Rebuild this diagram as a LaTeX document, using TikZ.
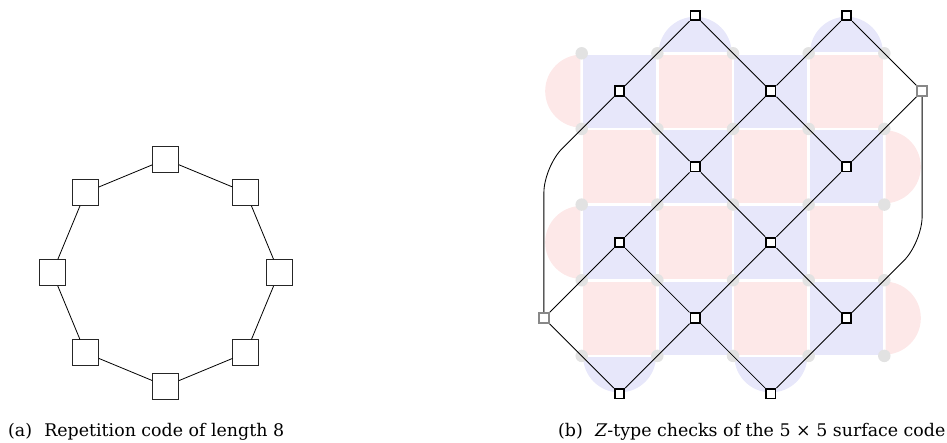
\documentclass[tikz,border=0pt]{standalone}
\usepackage{fontspec}
\setmainfont{DejaVu Serif}
\definecolor{xface}{RGB}{253,232,232}
\definecolor{zface}{RGB}{231,231,250}
\definecolor{qubit}{RGB}{226,226,226}
\definecolor{bnd}{RGB}{136,136,136}
\begin{document}
\begin{tikzpicture}[x=1pt,y=-1pt,
  rep/.style={draw=black!85, fill=white, minimum size=26pt, inner sep=0pt, line width=0.8pt},
  zchk/.style={draw=black, fill=white, minimum size=9.5pt, inner sep=0pt, line width=1.8pt},
  vchk/.style={draw=bnd, fill=white, minimum size=10pt, inner sep=0pt, line width=1.3pt},
  dq/.style={circle, fill=qubit, minimum size=12.5pt, inner sep=0pt},
  conn/.style={line width=0.85pt},
  captext/.style={anchor=base west, inner sep=0pt, font=\fontsize{17.4}{20}\selectfont}]
\useasboundingbox (0,0) rectangle (947,443);

% ---------- (a) repetition code on a ring of 8 ----------
\foreach \k in {0,...,7}
  \node[rep] (r\k) at ({165.7+113.4*cos(90+45*\k)},{272.7+113.4*sin(90+45*\k)}) {};
\foreach \k [evaluate=\k as \n using {int(mod(\k+1,8))}] in {0,...,7}
  \draw[line width=0.8pt] (r\k) -- (r\n);

% ---------- (b) 5x5 surface code ----------
\def\xo{581.7}\def\yo{53.3}\def\dx{75.65}\def\gp{1.3}
% plaquettes
\foreach \c in {0,...,3}
  \foreach \r in {0,...,3} {
    \pgfmathtruncatemacro\parity{mod(\c+\r,2)}
    \ifnum\parity=0 \def\fc{zface}\else\def\fc{xface}\fi
    \fill[\fc] ({\xo+\c*\dx+\gp},{\yo+\r*\dx+\gp}) rectangle ({\xo+(\c+1)*\dx-\gp},{\yo+(\r+1)*\dx-\gp});
  }
% boundary half-discs: Z on top/bottom, X on left/right
\foreach \c in {1,3} {
  \begin{scope}
    \clip ({\xo+\c*\dx},{\yo-\gp}) rectangle ({\xo+(\c+1)*\dx},{\yo-\dx});
    \fill[zface] ({\xo+(\c+0.5)*\dx},{\yo}) circle[radius={\dx/2-\gp}];
  \end{scope}
}
\foreach \c in {0,2} {
  \begin{scope}
    \clip ({\xo+\c*\dx},{\yo+4*\dx+\gp}) rectangle ({\xo+(\c+1)*\dx},{\yo+5*\dx});
    \fill[zface] ({\xo+(\c+0.5)*\dx},{\yo+4*\dx}) circle[radius={\dx/2-\gp}];
  \end{scope}
}
\foreach \r in {0,2} {
  \begin{scope}
    \clip ({\xo-\gp},{\yo+\r*\dx}) rectangle ({\xo-\dx},{\yo+(\r+1)*\dx});
    \fill[xface] ({\xo},{\yo+(\r+0.5)*\dx}) circle[radius={\dx/2-\gp}];
  \end{scope}
}
\foreach \r in {1,3} {
  \begin{scope}
    \clip ({\xo+4*\dx+\gp},{\yo+\r*\dx}) rectangle ({\xo+5*\dx},{\yo+(\r+1)*\dx});
    \fill[xface] ({\xo+4*\dx},{\yo+(\r+0.5)*\dx}) circle[radius={\dx/2-\gp}];
  \end{scope}
}
% data qubits
\foreach \i in {0,...,4}
  \foreach \j in {0,...,4}
    \node[dq] (d-\i-\j) at ({\xo+\i*\dx},{\yo+\j*\dx}) {};

% Z checks: bulk plaquettes
\foreach \c/\r in {0/0,2/0,1/1,3/1,0/2,2/2,1/3,3/3}
  \coordinate (p-\c-\r) at ({\xo+(\c+0.5)*\dx},{\yo+(\r+0.5)*\dx});
% boundary checks and virtual boundary vertices
\coordinate (p-t1) at ({\xo+1.5*\dx},{\yo-0.5*\dx});
\coordinate (p-t3) at ({\xo+3.5*\dx},{\yo-0.5*\dx});
\coordinate (p-b0) at ({\xo+0.5*\dx},{\yo+4.5*\dx});
\coordinate (p-b2) at ({\xo+2.5*\dx},{\yo+4.5*\dx});
\coordinate (p-L) at ({\xo-0.5*\dx},{\yo+3.5*\dx});
\coordinate (p-R) at ({\xo+4.5*\dx},{\yo+0.5*\dx});
\coordinate (bendL) at ({\xo-0.5*\dx},{\yo+1.5*\dx});
\coordinate (bendR) at ({\xo+4.5*\dx},{\yo+2.5*\dx});

\foreach \n in {0-0,2-0,1-1,3-1,0-2,2-2,1-3,3-3,t1,t3,b0,b2}
  \node[zchk] (z-\n) at (p-\n) {};
\node[vchk] (z-L) at (p-L) {};
\node[vchk] (z-R) at (p-R) {};

% each connector is one data qubit shared by two checks
\foreach \a/\q/\b in {t1/1-0/0-0, t1/2-0/2-0, t3/3-0/2-0, t3/4-0/R,
                      0-0/1-1/1-1, 2-0/2-1/1-1, 2-0/3-1/3-1, R/4-1/3-1,
                      1-1/1-2/0-2, 1-1/2-2/2-2, 3-1/3-2/2-2,
                      0-2/1-3/1-3, 2-2/2-3/1-3, 2-2/3-3/3-3,
                      1-3/1-4/b0, 1-3/2-4/b2, 3-3/3-4/b2,
                      0-2/0-3/L, b0/0-4/L}
  \draw[conn] (z-\a) -- (d-\q.center) -- (z-\b);
\draw[conn, rounded corners=26pt] (z-0-0) -- (d-0-1.center) -- (bendL) -- (z-L);
\draw[conn, rounded corners=26pt] (z-3-3) -- (d-4-3.center) -- (bendR) -- (z-R);

% redraw check nodes on top of the connectors
\foreach \n in {0-0,2-0,1-1,3-1,0-2,2-2,1-3,3-3,t1,t3,b0,b2}
  \node[zchk] at (p-\n) {};
\node[vchk] at (p-L) {};
\node[vchk] at (p-R) {};

% captions
\node[captext] (capa) at (8,436) {(a)\hspace{0.7em}Repetition code of length 8};
\node[captext] (capb) at (558,436) {(b)\hspace{0.7em}\textit{Z}-type checks of the 5 × 5 surface code};
\end{tikzpicture}
\end{document}
